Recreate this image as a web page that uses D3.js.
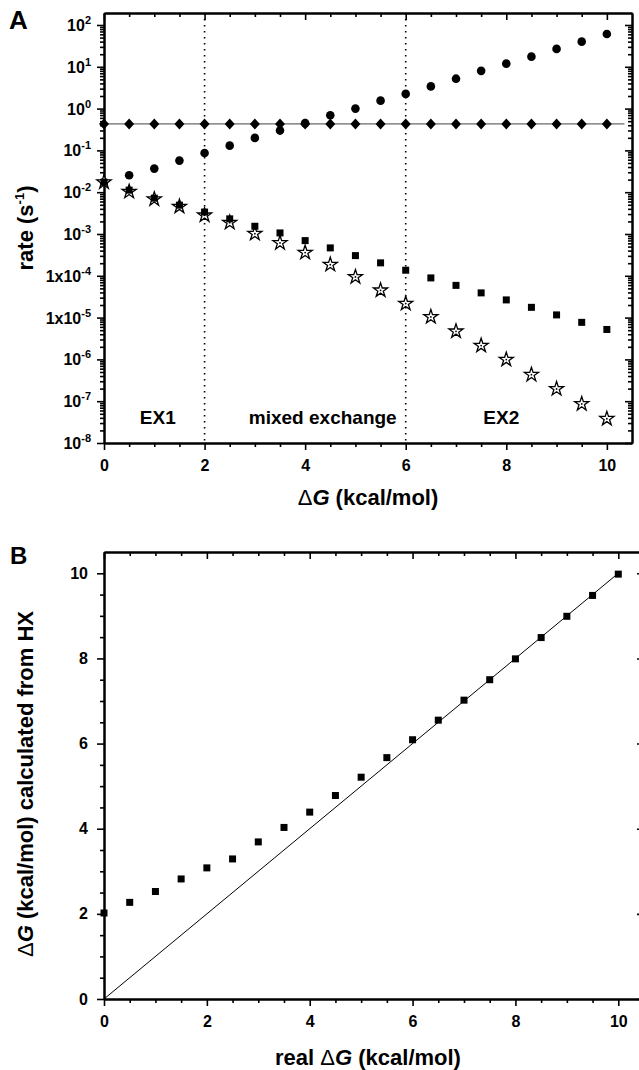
<!DOCTYPE html>
<html>
<head>
<meta charset="utf-8">
<script src="https://cdn.jsdelivr.net/npm/d3@7"></script>
<style>
  body { margin: 0; background: #fff; }
  svg { display: block; font-family: "Liberation Sans", Arial, sans-serif; font-weight: bold; }
</style>
</head>
<body>
<svg id="chart" width="639" height="1070"></svg>
<script>
// x values (kcal/mol), shared by both panels
const dG = [0, 0.5, 1, 1.5, 2, 2.5, 3, 3.5, 4, 4.5, 5, 5.5, 6, 6.5, 7, 7.5, 8, 8.5, 9, 9.5, 10];

// panel A rates (s^-1)
const rateCircle = [0.0175, 0.0254, 0.0367, 0.057, 0.087, 0.13, 0.199, 0.298, 0.45, 0.69, 1.0,
  1.55, 2.25, 3.4, 5.2, 8.0, 11.9, 17.5, 26.8, 40, 61];
const rateDiamond = [0.43, 0.43, 0.43, 0.43, 0.43, 0.43, 0.43, 0.43, 0.43, 0.43, 0.43,
  0.43, 0.43, 0.43, 0.43, 0.43, 0.43, 0.43, 0.43, 0.43, 0.43];
const rateSquare = [0.0173, 0.0112, 0.0072, 0.0049, 0.00335, 0.0023, 0.00153, 0.00106, 0.000695,
  0.000465, 0.000304, 0.000204, 0.000136, 8.9e-5, 5.9e-5, 3.9e-5, 2.65e-5, 1.76e-5, 1.16e-5, 7.7e-6, 5.2e-6];
const rateStar = [0.0173, 0.0103, 0.0068, 0.00453, 0.0028, 0.00187, 0.00102, 0.00061, 0.000359,
  0.000185, 9.4e-5, 4.5e-5, 2.16e-5, 1.04e-5, 4.7e-6, 2.14e-6, 9.9e-7, 4.3e-7, 1.97e-7, 8.6e-8, 3.8e-8];
const diamondLineX = [0, 10.35];
const regionBounds = [2, 6];
const regionLabels = [
  { text: 'EX1', x: 1.07 },
  { text: 'mixed exchange', x: 4.35 },
  { text: 'EX2', x: 7.9 }
];
const decadeLabels = [
  { v: 1e2, base: '10', sup: '2' }, { v: 1e1, base: '10', sup: '1' }, { v: 1e0, base: '10', sup: '0' },
  { v: 1e-1, base: '10', sup: '-1' }, { v: 1e-2, base: '10', sup: '-2' }, { v: 1e-3, base: '10', sup: '-3' },
  { v: 1e-4, base: '1x10', sup: '-4' }, { v: 1e-5, base: '1x10', sup: '-5' }, { v: 1e-6, base: '10', sup: '-6' },
  { v: 1e-7, base: '10', sup: '-7' }, { v: 1e-8, base: '10', sup: '-8' }
];

// panel B
const dGfromHX = [2.02, 2.27, 2.525, 2.82, 3.08, 3.29, 3.69, 4.03, 4.39, 4.78, 5.21,
  5.67, 6.09, 6.55, 7.02, 7.5, 7.99, 8.49, 8.99, 9.48, 9.98];
const identityX = [0, 10];

const majorX = [0, 2, 4, 6, 8, 10];
const minorX = [0.5, 1, 1.5, 2.5, 3, 3.5, 4.5, 5, 5.5, 6.5, 7, 7.5, 8.5, 9, 9.5];

const svg = d3.select('#chart');

const styleAxis = (g, w) => {
  g.select('.domain').attr('stroke', '#000').attr('stroke-width', w);
  g.selectAll('.tick line').attr('stroke', '#000').attr('stroke-width', 1.6);
  g.selectAll('.tick text').attr('fill', '#000').attr('font-size', 16).attr('font-weight', 'bold')
    .attr('font-family', '"Liberation Sans", Arial, sans-serif');
};

const drawBox = (x, y, left, right, top, bottom) => {
  // bottom: major + minor ticks, outward
  svg.append('g').attr('transform', `translate(0,${bottom})`)
    .call(d3.axisBottom(x).tickValues(minorX).tickSize(4).tickFormat('').tickSizeOuter(0))
    .call(g => styleAxis(g, 2));
  svg.append('g').attr('transform', `translate(0,${bottom})`)
    .call(d3.axisBottom(x).tickValues(majorX).tickSize(7).tickPadding(10).tickFormat(d3.format('d')).tickSizeOuter(0))
    .call(g => styleAxis(g, 2));
  // top mirror: ticks point down
  svg.append('g').attr('transform', `translate(0,${top})`)
    .call(d3.axisBottom(x).tickValues(minorX).tickSize(4).tickFormat('').tickSizeOuter(0))
    .call(g => styleAxis(g, 2));
  svg.append('g').attr('transform', `translate(0,${top})`)
    .call(d3.axisBottom(x).tickValues(majorX).tickSize(7).tickFormat('').tickSizeOuter(0))
    .call(g => styleAxis(g, 2));
};

// ---------- panel A ----------
const xA = d3.scaleLinear().domain([0, 10.5]).range([104, 632]);
const yA = d3.scaleLog().domain([1e-8, Math.pow(10, 2.287)]).range([443, 13]);

drawBox(xA, yA, 104, 632, 13, 443);

let logMinor = [];
for (let k = -8; k <= 1; k++) {
  for (let m = 2; m <= 9; m++) logMinor.push(m * Math.pow(10, k));
}
const decades = decadeLabels.map(d => d.v);

[104, 632].forEach(px => {
  svg.append('g').attr('transform', `translate(${px},0)`)
    .call(d3.axisLeft(yA).tickValues(logMinor).tickSize(4).tickFormat('').tickSizeOuter(0))
    .call(g => styleAxis(g, 2));
  svg.append('g').attr('transform', `translate(${px},0)`)
    .call(d3.axisLeft(yA).tickValues(decades).tickSize(7).tickFormat('').tickSizeOuter(0))
    .call(g => styleAxis(g, 2));
});

// decade labels with superscripts
const decG = svg.append('g').attr('font-size', 16).attr('text-anchor', 'end');
decadeLabels.forEach(d => {
  const t = decG.append('text').attr('x', 91).attr('y', yA(d.v) + 6);
  t.append('tspan').text(d.base);
  t.append('tspan').attr('font-size', 11).attr('dy', -7).text(d.sup);
});

// region separators
svg.append('g').selectAll('line').data(regionBounds).join('line')
  .attr('x1', d => xA(d)).attr('x2', d => xA(d))
  .attr('y1', yA.range()[1]).attr('y2', yA.range()[0])
  .attr('stroke', '#000').attr('stroke-width', 1.6).attr('stroke-dasharray', '1.6,4.4');

svg.append('g').selectAll('text').data(regionLabels).join('text')
  .attr('x', d => xA(d.x)).attr('y', 424)
  .attr('text-anchor', 'middle').attr('font-size', 19)
  .text(d => d.text);

// horizontal line through diamonds
svg.append('path')
  .datum(diamondLineX)
  .attr('d', d3.line().x(d => xA(d)).y(() => yA(rateDiamond[0])))
  .attr('stroke', '#444').attr('stroke-width', 1).attr('fill', 'none');

const pts = (ys) => dG.map((x, i) => ({ x: x, y: ys[i] }));

svg.append('g').selectAll('circle').data(pts(rateCircle)).join('circle')
  .attr('cx', d => xA(d.x)).attr('cy', d => yA(d.y)).attr('r', 4.3).attr('fill', '#000');

svg.append('g').selectAll('path').data(pts(rateDiamond)).join('path')
  .attr('transform', d => `translate(${xA(d.x)},${yA(d.y)})`)
  .attr('d', 'M0,-5.5L5,0L0,5.5L-5,0Z').attr('fill', '#000');

const starG = svg.append('g').selectAll('g').data(pts(rateStar)).join('g')
  .attr('transform', d => `translate(${xA(d.x)},${yA(d.y)})`);
starG.append('path').attr('d', d3.symbol(d3.symbolStar, 62)())
  .attr('fill', '#fff').attr('stroke', '#000').attr('stroke-width', 1.3).attr('stroke-linejoin', 'miter');
starG.append('circle').attr('r', 0.9).attr('fill', '#000');

svg.append('g').selectAll('rect').data(pts(rateSquare)).join('rect')
  .attr('x', d => xA(d.x) - 3.5).attr('y', d => yA(d.y) - 3.5)
  .attr('width', 7).attr('height', 7).attr('fill', '#000');

// titles
const yTitleA = svg.append('text').attr('transform', 'translate(33,228) rotate(-90)')
  .attr('text-anchor', 'middle').attr('font-size', 22);
yTitleA.append('tspan').text('rate (s');
yTitleA.append('tspan').attr('font-size', 13).attr('dy', -9).text('-1');
yTitleA.append('tspan').attr('dy', 9).text(')');

const xTitleA = svg.append('text').attr('x', 368).attr('y', 505)
  .attr('text-anchor', 'middle').attr('font-size', 22);
xTitleA.append('tspan').attr('font-weight', 'normal').text('\u0394');
xTitleA.append('tspan').attr('font-style', 'italic').text('G');
xTitleA.append('tspan').text(' (kcal/mol)');

svg.append('text').attr('x', 9).attr('y', 29).attr('font-size', 26).attr('font-weight', 900).text('A');

// ---------- panel B ----------
const xB = d3.scaleLinear().domain([0, 10.5]).range([104, 644]);
const yB = d3.scaleLinear().domain([0, 10.5]).range([999, 552]);

drawBox(xB, yB, 104, 644, 552, 999);

[104, 644].forEach((px, i) => {
  svg.append('g').attr('transform', `translate(${px},0)`)
    .call(d3.axisLeft(yB).tickValues(minorX).tickSize(4).tickFormat('').tickSizeOuter(0))
    .call(g => styleAxis(g, 2));
  svg.append('g').attr('transform', `translate(${px},0)`)
    .call(d3.axisLeft(yB).tickValues(majorX).tickSize(7).tickPadding(9)
      .tickFormat(i === 0 ? d3.format('d') : '').tickSizeOuter(0))
    .call(g => styleAxis(g, 2));
});

svg.append('path')
  .datum(identityX)
  .attr('d', d3.line().x(d => xB(d)).y(d => yB(d)))
  .attr('stroke', '#000').attr('stroke-width', 1).attr('fill', 'none');

svg.append('g').selectAll('rect').data(pts(dGfromHX)).join('rect')
  .attr('x', d => xB(d.x) - 3.5).attr('y', d => yB(d.y) - 3.5)
  .attr('width', 7).attr('height', 7).attr('fill', '#000');

const yTitleB = svg.append('text').attr('transform', 'translate(33,784) rotate(-90)')
  .attr('text-anchor', 'middle').attr('font-size', 22);
yTitleB.append('tspan').attr('font-weight', 'normal').text('\u0394');
yTitleB.append('tspan').attr('font-style', 'italic').text('G');
yTitleB.append('tspan').text(' (kcal/mol) calculated from HX');

const xTitleB = svg.append('text').attr('x', 368).attr('y', 1065)
  .attr('text-anchor', 'middle').attr('font-size', 22);
xTitleB.append('tspan').text('real ');
xTitleB.append('tspan').attr('font-weight', 'normal').text('\u0394');
xTitleB.append('tspan').attr('font-style', 'italic').text('G');
xTitleB.append('tspan').text(' (kcal/mol)');

svg.append('text').attr('x', 10).attr('y', 564).attr('font-size', 24).attr('font-weight', 900).text('B');
</script>
</body>
</html>
